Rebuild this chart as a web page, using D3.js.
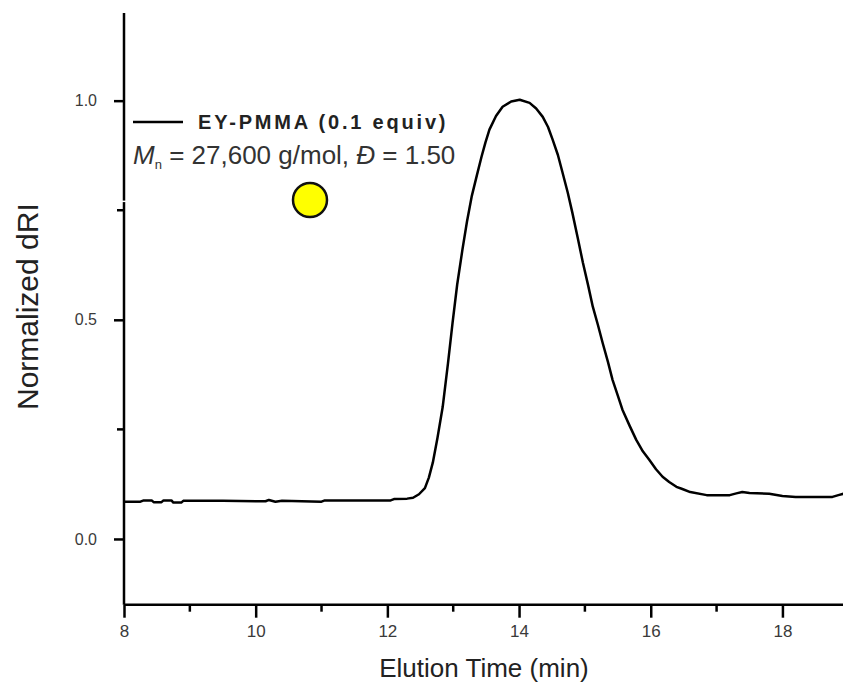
<!DOCTYPE html>
<html>
<head>
<meta charset="utf-8">
<script src="https://cdn.jsdelivr.net/npm/d3@7"></script>
<style>
  body { margin: 0; background: #fff; }
  svg { display: block; font-family: "Liberation Sans", Arial, sans-serif; }
</style>
</head>
<body>
<svg id="chart" width="843" height="688"></svg>
<script>
// elution time (min) and normalized dRI
const elutionTime = [8.0, 8.25, 8.3, 8.42, 8.45, 8.57, 8.6, 8.72, 8.75, 8.87, 8.9, 9.5, 10.15, 10.2, 10.3, 10.4,
    11.0, 11.05, 11.6, 12.05, 12.1, 12.3, 12.39, 12.48, 12.57, 12.63, 12.69, 12.76, 12.84, 12.92, 12.99,
    13.06, 13.14, 13.21, 13.28, 13.36, 13.43, 13.49, 13.55, 13.65, 13.75, 13.88, 14.01, 14.16, 14.26,
    14.36, 14.44, 14.51, 14.59, 14.66, 14.74, 14.81, 14.89, 14.97, 15.05, 15.12, 15.2, 15.27, 15.35,
    15.42, 15.5, 15.57, 15.68, 15.78, 15.88, 15.98, 16.08, 16.18, 16.28, 16.39, 16.48, 16.6, 16.85,
    17.2, 17.3, 17.39, 17.5, 17.8, 18.0, 18.2, 18.76, 18.85, 18.95];
const dRI = [0.085, 0.085, 0.088, 0.088, 0.084, 0.084, 0.088, 0.088, 0.083, 0.083, 0.087, 0.087, 0.086, 0.089, 0.085, 0.087,
    0.085, 0.088, 0.088, 0.088, 0.091, 0.092, 0.094, 0.102, 0.116, 0.140, 0.174, 0.230, 0.301, 0.400, 0.493,
    0.580, 0.660, 0.725, 0.781, 0.830, 0.872, 0.905, 0.934, 0.965, 0.986, 0.998, 1.002, 0.995, 0.982,
    0.963, 0.940, 0.911, 0.876, 0.836, 0.790, 0.744, 0.688, 0.630, 0.578, 0.530, 0.487, 0.447, 0.404,
    0.363, 0.327, 0.295, 0.258, 0.226, 0.200, 0.180, 0.159, 0.142, 0.130, 0.119, 0.114, 0.107, 0.100,
    0.100, 0.104, 0.107, 0.105, 0.103, 0.098, 0.096, 0.096, 0.100, 0.104];

const xMajor = [8, 10, 12, 14, 16, 18];
const xMinor = [9, 11, 13, 15, 17];
const yMajor = [0.0, 0.5, 1.0];
const yMinor = [0.25, 0.75];

const legendLabel = "EY-PMMA (0.1 equiv)";

const svg = d3.select("#chart");
const width = +svg.attr("width");

const x = d3.scaleLinear().domain([8, 18.92]).range([124, 843]);
const y = d3.scaleLinear().domain([-0.15, 1.2]).range([604.7, 13]);

svg.append("defs").append("clipPath").attr("id", "plot")
    .append("rect").attr("x", 124).attr("y", 0).attr("width", width - 124).attr("height", 604);

// trace
const line = d3.line().x((d, i) => x(elutionTime[i])).y(d => y(d));
svg.append("path")
    .datum(dRI)
    .attr("clip-path", "url(#plot)")
    .attr("fill", "none")
    .attr("stroke", "#000")
    .attr("stroke-width", 2.5)
    .attr("stroke-linejoin", "round")
    .attr("d", line);

// x axis
const gx = svg.append("g").attr("transform", `translate(0,${y(-0.15)})`);
gx.call(d3.axisBottom(x).tickValues(xMajor).tickSize(13).tickPadding(7).tickFormat(d3.format("d")));
gx.call(g => g.selectAll(".minor").data(xMinor).enter().append("line")
    .attr("class", "minor").attr("x1", d => x(d)).attr("x2", d => x(d)).attr("y1", 0).attr("y2", 7));

// y axis
const gy = svg.append("g").attr("transform", `translate(${x(8)},0)`);
gy.call(d3.axisLeft(y).tickValues(yMajor).tickSize(10).tickPadding(17).tickFormat(d3.format(".1f")));
gy.call(g => g.selectAll(".minor").data(yMinor).enter().append("line")
    .attr("class", "minor").attr("x1", 0).attr("x2", -7).attr("y1", d => y(d)).attr("y2", d => y(d)));

svg.selectAll(".domain").attr("stroke", "#000").attr("stroke-width", 2.5);
gx.select(".domain").attr("d", `M${x(8)},0H${width}`);
gy.select(".domain").attr("d", `M0,${y(1.2)}V${y(-0.15)}`);
svg.selectAll(".tick line, .minor").attr("stroke", "#000").attr("stroke-width", 2.5);
svg.selectAll(".tick text").attr("fill", "#3a3a3a").attr("font-family", "Liberation Sans, Arial, sans-serif");
gx.selectAll(".tick text").attr("font-size", 17);
gy.selectAll(".tick text").attr("font-size", 16);

// small break in the y axis line seen in the original
svg.append("rect").attr("x", x(8) - 2).attr("y", y(0.772)).attr("width", 4).attr("height", 1.5).attr("fill", "#fff");

// axis titles
svg.append("text")
    .attr("x", 484).attr("y", 677)
    .attr("text-anchor", "middle").attr("font-size", 26).attr("fill", "#222")
    .text("Elution Time (min)");
svg.append("text")
    .attr("transform", `translate(38,${y(0.53)}) rotate(-90)`)
    .attr("text-anchor", "middle").attr("font-size", 30).attr("fill", "#222")
    .text("Normalized dRI");

// legend
svg.append("line").attr("x1", 133).attr("x2", 183).attr("y1", 122).attr("y2", 122)
    .attr("stroke", "#000").attr("stroke-width", 2.5);
svg.append("text").attr("x", 198).attr("y", 129)
    .attr("font-size", 20).attr("font-weight", "bold").attr("letter-spacing", 2.8).attr("fill", "#222")
    .text(legendLabel);
const mn = svg.append("text").attr("x", 133).attr("y", 164).attr("font-size", 26).attr("fill", "#333");
mn.append("tspan").attr("font-style", "italic").text("M");
mn.append("tspan").attr("font-size", 13).attr("dy", 5).text("n");
mn.append("tspan").attr("dy", -5).text(" = 27,600 g/mol, ");
mn.append("tspan").attr("font-style", "italic").text("Đ");
mn.append("tspan").text(" = 1.50");

// yellow marker
svg.append("circle").attr("cx", 310).attr("cy", 200).attr("r", 17)
    .attr("fill", "#ffff00").attr("stroke", "#111").attr("stroke-width", 2.5);
</script>
</body>
</html>
